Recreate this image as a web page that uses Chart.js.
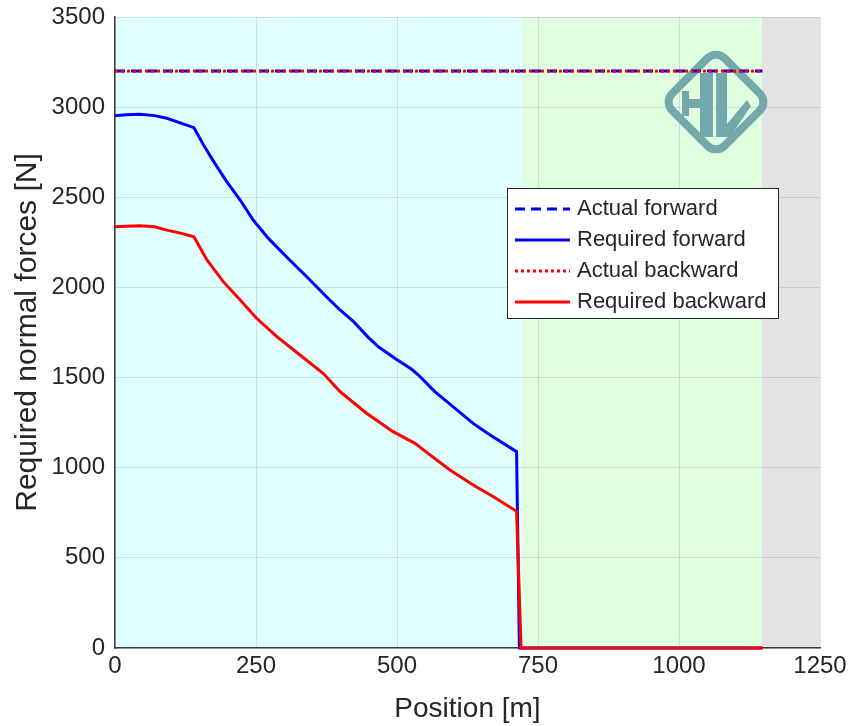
<!DOCTYPE html>
<html>
<head>
<meta charset="utf-8">
<script src="https://cdn.jsdelivr.net/npm/chart.js@4"></script>
<style>
  html, body { margin: 0; padding: 0; background: #fff; }
</style>
</head>
<body>
<canvas id="forceChart" width="850" height="726"></canvas>
<script>
// values
const actualPositions = [0, 1148];
const actualForward = [3200, 3200];
const actualBackward = [3200, 3200];

const forwardPositions = [0, 20, 44, 70, 92, 118, 140, 157, 177, 198, 222, 245, 272, 304, 340, 375, 399, 423, 449, 467, 496, 526, 538, 567, 603, 635, 665, 712, 717, 1148];
const requiredForward = [2952, 2958, 2960, 2953, 2938, 2910, 2886, 2790, 2688, 2587, 2485, 2374, 2272, 2170, 2059, 1948, 1875, 1810, 1723, 1671, 1607, 1546, 1514, 1422, 1329, 1246, 1181, 1089, 0, 0];

const backwardPositions = [0, 20, 44, 70, 92, 118, 140, 163, 192, 222, 251, 287, 328, 369, 399, 446, 493, 532, 559, 594, 635, 671, 712, 720, 1148];
const requiredBackward = [2337, 2340, 2342, 2336, 2318, 2300, 2281, 2152, 2032, 1930, 1829, 1727, 1625, 1524, 1422, 1302, 1200, 1135, 1070, 987, 904, 839, 758, 0, 0];

// track sections (start/end positions in m)
const zoneEdges = [0, 721, 1147, 1250];

const xTicks = [0, 250, 500, 750, 1000, 1250];
const yTicks = [0, 500, 1000, 1500, 2000, 2500, 3000, 3500];

const FONT = "'Liberation Sans', Arial, sans-serif";
const TEXT = "#262626";

function toPoints(xs, ys) {
  return xs.map((x, i) => ({ x: x, y: ys[i] }));
}

const zonePlugin = {
  id: "zones",
  beforeDraw(chart) {
    const { ctx, chartArea, scales } = chart;
    const colors = ["#e0ffff", "#e0ffe0", "#e3e3e3"];
    ctx.save();
    for (let i = 0; i < zoneEdges.length - 1; i++) {
      const x0 = scales.x.getPixelForValue(zoneEdges[i]);
      const x1 = scales.x.getPixelForValue(zoneEdges[i + 1]);
      ctx.fillStyle = colors[i];
      ctx.fillRect(x0, chartArea.top, x1 - x0, chartArea.bottom - chartArea.top);
    }
    ctx.restore();
  },
};

// watermark logo in the upper right
const logoPlugin = {
  id: "logo",
  beforeDatasetsDraw(chart) {
    const { ctx, chartArea } = chart;
    const cx = chartArea.right - 104;
    const cy = chartArea.top + 85;
    const col = "#73a9ab";
    ctx.save();
    ctx.translate(cx, cy);
    ctx.save();
    ctx.rotate(Math.PI / 4);
    ctx.strokeStyle = col;
    ctx.lineWidth = 8;
    ctx.beginPath();
    ctx.roundRect(-37, -37, 74, 74, 12);
    ctx.stroke();
    ctx.restore();
    ctx.fillStyle = col;
    // H
    ctx.fillRect(-16, -29, 13, 64);
    ctx.fillRect(-30, -3, 15, 9);
    ctx.fillRect(-34, -11, 7, 25);
    // L
    ctx.fillRect(0, -29, 11, 64);
    ctx.beginPath();
    ctx.moveTo(11, 22);
    ctx.lineTo(31, -2);
    ctx.lineTo(35, 4);
    ctx.lineTo(14, 35);
    ctx.lineTo(11, 35);
    ctx.closePath();
    ctx.fill();
    ctx.restore();
  },
};

const legendPlugin = {
  id: "boxLegend",
  afterDraw(chart) {
    const { ctx, chartArea } = chart;
    const left = chartArea.right - 313;
    const top = chartArea.top + 171;
    const w = 271, h = 130;
    ctx.save();
    ctx.fillStyle = "#ffffff";
    ctx.fillRect(left, top, w, h);
    ctx.strokeStyle = "#262626";
    ctx.lineWidth = 1;
    ctx.strokeRect(left + 0.5, top + 0.5, w, h);
    ctx.font = "22px " + FONT;
    ctx.textBaseline = "middle";
    chart.data.datasets.forEach((ds, i) => {
      const y = top + 21 + i * 31;
      ctx.strokeStyle = ds.borderColor;
      ctx.lineWidth = ds.borderWidth;
      ctx.setLineDash(ds.borderDash || []);
      ctx.beginPath();
      ctx.moveTo(left + 8, y);
      ctx.lineTo(left + 63, y);
      ctx.stroke();
      ctx.setLineDash([]);
      ctx.fillStyle = TEXT;
      ctx.fillText(ds.label, left + 70, y);
    });
    ctx.restore();
  },
};

const ctx = document.getElementById("forceChart").getContext("2d");

const chart = new Chart(ctx, {
  type: "line",
  data: {
    datasets: [
      {
        label: "Actual forward",
        data: toPoints(actualPositions, actualForward),
        borderColor: "#0000ff",
        borderWidth: 3,
        borderDash: [10, 6],
        pointRadius: 0,
        clip: 4,
        order: 3,
      },
      {
        label: "Required forward",
        data: toPoints(forwardPositions, requiredForward),
        borderColor: "#0000ff",
        borderWidth: 3,
        pointRadius: 0,
        clip: 4,
        order: 1,
      },
      {
        label: "Actual backward",
        data: toPoints(actualPositions, actualBackward),
        borderColor: "#ff0000",
        borderWidth: 3,
        borderDash: [3, 3],
        pointRadius: 0,
        clip: 4,
        order: 2,
      },
      {
        label: "Required backward",
        data: toPoints(backwardPositions, requiredBackward),
        borderColor: "#ff0000",
        borderWidth: 3,
        pointRadius: 0,
        clip: 4,
        order: 0,
      },
    ],
  },
  options: {
    responsive: false,
    animation: false,
    layout: { padding: { left: 0, right: 30, top: 17, bottom: 0 } },
    plugins: {
      legend: { display: false },
      tooltip: { enabled: false },
    },
    scales: {
      x: {
        type: "linear",
        min: 0,
        max: 1250,
        afterBuildTicks: (scale) => {
          scale.ticks = xTicks.map((v) => ({ value: v }));
        },
        afterFit: (scale) => {
          scale.height = 78;
          scale.paddingLeft = 0;
          scale.paddingRight = 0;
        },
        ticks: {
          color: TEXT,
          font: { family: FONT, size: 24 },
          padding: 4,
          maxRotation: 0,
          callback: (v) => String(v),
        },
        grid: {
          color: "rgba(38, 38, 38, 0.13)",
          drawTicks: false,
        },
        border: { color: "#3a3a3a", width: 1.5 },
        title: {
          display: true,
          text: "Position [m]",
          color: TEXT,
          font: { family: FONT, size: 28 },
          padding: { top: 2, bottom: 0 },
        },
      },
      y: {
        min: 0,
        max: 3500,
        afterBuildTicks: (scale) => {
          scale.ticks = yTicks.map((v) => ({ value: v }));
        },
        afterFit: (scale) => {
          scale.width = 115;
          scale.paddingTop = 0;
          scale.paddingBottom = 0;
        },
        ticks: {
          color: TEXT,
          font: { family: FONT, size: 24 },
          padding: 10,
          callback: (v) => String(v),
        },
        grid: {
          color: "rgba(38, 38, 38, 0.13)",
          drawTicks: false,
        },
        border: { color: "#3a3a3a", width: 1.5 },
        title: {
          display: true,
          text: "Required normal forces [N]",
          color: TEXT,
          font: { family: FONT, size: 30 },
          padding: { top: 10, bottom: 8 },
        },
      },
    },
  },
  plugins: [zonePlugin, logoPlugin, legendPlugin],
});
</script>
</body>
</html>
